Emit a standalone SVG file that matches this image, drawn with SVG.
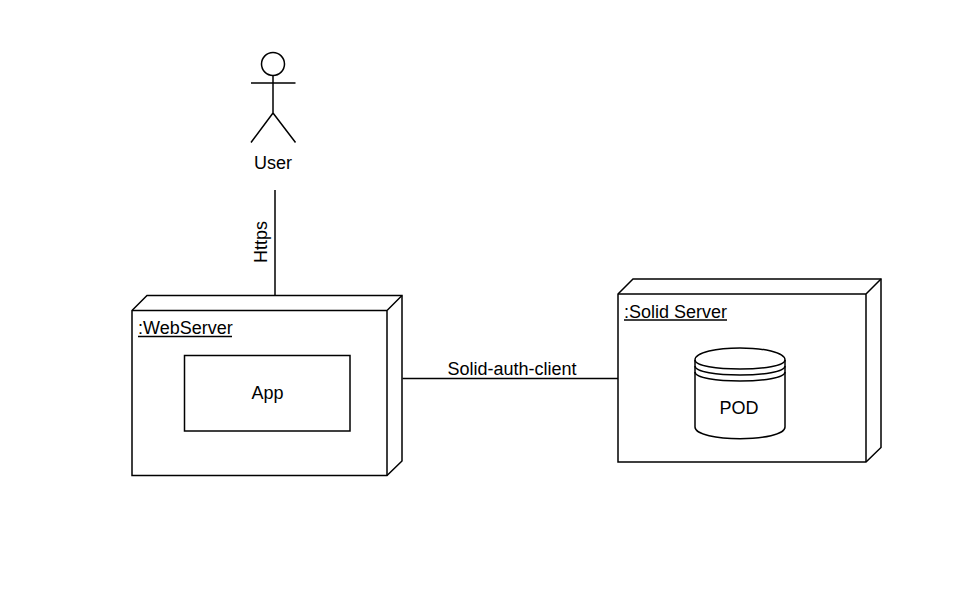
<svg xmlns="http://www.w3.org/2000/svg" width="964" height="589" viewBox="0 0 964 589">
<style>
.s{fill:none;stroke:#000;stroke-width:1.5;stroke-linejoin:miter}
.b{fill:#fff;stroke:#000;stroke-width:1.5}
text{font-family:"Liberation Sans",Arial,sans-serif;font-size:18px;fill:#000}
.m{text-anchor:middle}
</style>
<rect width="964" height="589" fill="#fff"/>
<g id="connectors">
<path class="s" d="M275 190V296"/>
<path class="s" d="M402.500 378.500H618"/>
<text class="m" transform="translate(267 242) rotate(-90)">Https</text>
<text class="m" x="512" y="375">Solid-auth-client</text>
</g>
<g id="user">
<circle class="s" cx="273" cy="64" r="11.500"/>
<path class="s" d="M273 75.500V113M251 83H295.500M273 113L251 142.500M273 113L295.500 142.500"/>
<text class="m" x="273" y="169">User</text>
</g>
<g id="webserver">
<path class="b" d="M132 310.500L147 295.500H402V461L387 475.500H132Z"/>
<path class="s" d="M132 310.500H387V475.500M387 310.500L402 295.500"/>
<text x="138" y="334">:WebServer</text>
<path class="s" d="M138 336.500H232" stroke-width="1"/>
</g>
<g id="app">
<rect class="b" x="184.500" y="355.500" width="165.500" height="75.500"/>
<text class="m" x="267.500" y="399">App</text>
</g>
<g id="solidserver">
<path class="b" d="M618 294L633 279H881V447.500L866 462H618Z"/>
<path class="s" d="M618 294H866V462M866 294L881 279"/>
<text x="624" y="318">:Solid Server</text>
<path class="s" d="M624 320H727" stroke-width="1"/>
</g>
<g id="pod">
<path class="b" d="M695 360C695 344 785 344 785 360V427C785 442.500 695 442.500 695 427Z"/>
<path class="s" d="M695 360C695 372 785 372 785 360M695 366C695 378 785 378 785 366M695 372C695 384 785 384 785 372"/>
<text class="m" x="739" y="414">POD</text>
</g>
</svg>
